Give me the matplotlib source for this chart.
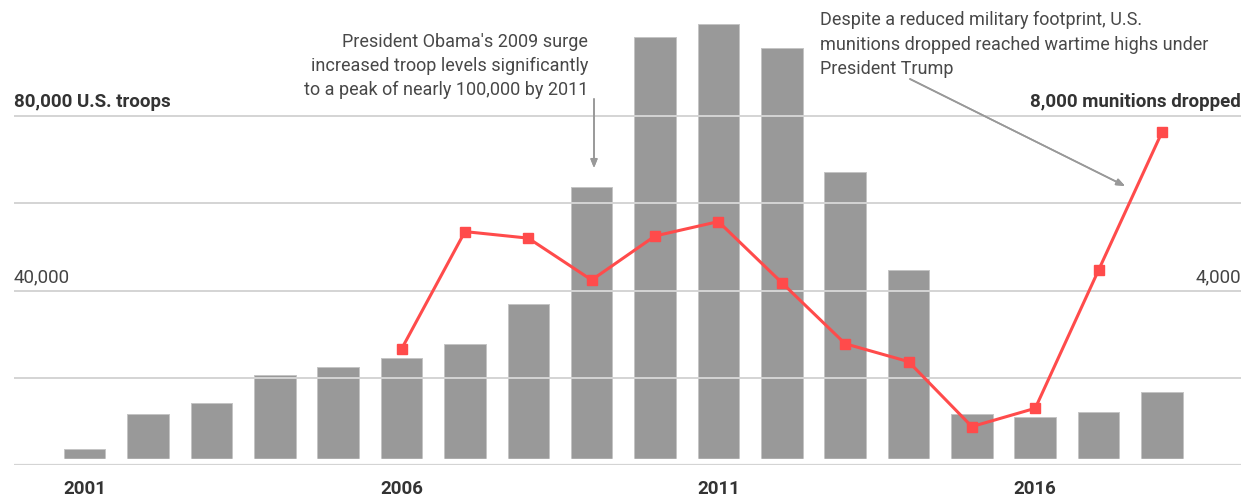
import matplotlib
matplotlib.use("Agg")
import matplotlib.pyplot as plt

years = list(range(2001, 2019))
troops = [3700, 11700, 14300, 20700, 22400, 24500, 27700, 36900, 63700,
          98000, 101200, 95500, 67100, 44600, 11800, 11000, 12200, 16700]
mun_years = list(range(2006, 2019))
munitions = [2660, 5350, 5200, 4240, 5250, 5580, 4180, 2780, 2370, 880, 1300, 4470, 7630]
tick_years = [2001, 2006, 2011, 2016]

W, H = 1244, 498
plt.rcParams['font.family'] = ['Roboto', 'DejaVu Sans']

fig = plt.figure(figsize=(W / 100, H / 100), dpi=100)
left, right, bottom, top = 14, 1241, 465, 10
ax = fig.add_axes([left / W, (H - bottom) / H, (right - left) / W, (bottom - top) / H])
ax2 = ax.twinx()

ymax_l = (bottom - top) / 87.25 * 20000
ax.set_ylim(0, ymax_l)
ax2.set_ylim(0, ymax_l / 10)
ax.set_xlim(2001 - 1.116, 2018 + 1.247)

ax.bar(years, troops, width=0.655, color='#999999', edgecolor='#c4c4c4',
       linewidth=0.7, zorder=1)
ax.axhspan(0, 1350, color='white', zorder=2)
for g in [20000, 40000, 60000, 80000]:
    ax.axhline(g, color='#d4d4d4', lw=1.4, zorder=3)
ax.axhline(0, color='#d4d4d4', lw=1.6, zorder=4)

ax2.plot(mun_years, munitions, color='#ff4b4b', lw=2.2, marker='s',
         markersize=6.5, zorder=5)

for a in (ax, ax2):
    for s in a.spines.values():
        s.set_visible(False)
    a.set_yticks([])
    a.tick_params(length=0)
ax.set_xticks(tick_years)
ax.set_xticklabels([str(y) for y in tick_years], fontsize=13.5, fontweight='bold',
                   color='#333333')
ax.tick_params(axis='x', pad=10.5)


def ftext(x, y, s, **kw):
    fig.text(x / W, 1 - y / H, s, va='baseline', **kw)


ftext(14, 107, "80,000 U.S. troops", ha='left', fontsize=13.5, fontweight='bold', color='#333333')
ftext(1241, 107, "8,000 munitions dropped", ha='right', fontsize=13.5, fontweight='bold', color='#333333')
ftext(14, 282, "40,000", ha='left', fontsize=13.5, color='#444444')
ftext(1241, 282, "4,000", ha='right', fontsize=13.5, color='#444444')

ann1 = ["President Obama's 2009 surge",
        "increased troop levels significantly",
        "to a peak of nearly 100,000 by 2011"]
for i, line in enumerate(ann1):
    ftext(588, 47 + 24 * i, line, ha='right', fontsize=13.0, color='#484848')

ann2 = ["Despite a reduced military footprint, U.S.",
        "munitions dropped reached wartime highs under",
        "President Trump"]
for i, line in enumerate(ann2):
    ftext(820, 25 + 24.5 * i, line, ha='left', fontsize=13.0, color='#484848')

arrow_kw = dict(arrowstyle='-|>,head_length=0.5,head_width=0.2', color='#999999', lw=1.2,
                shrinkA=0, shrinkB=0)
fig.add_artist(plt.annotate('', xy=(594, H - 168), xytext=(594, H - 99),
                            xycoords='figure pixels', textcoords='figure pixels',
                            arrowprops=arrow_kw))
fig.add_artist(plt.annotate('', xy=(1125, H - 186), xytext=(910, H - 79),
                            xycoords='figure pixels', textcoords='figure pixels',
                            arrowprops=arrow_kw))

fig.savefig('out.png', dpi=100)
